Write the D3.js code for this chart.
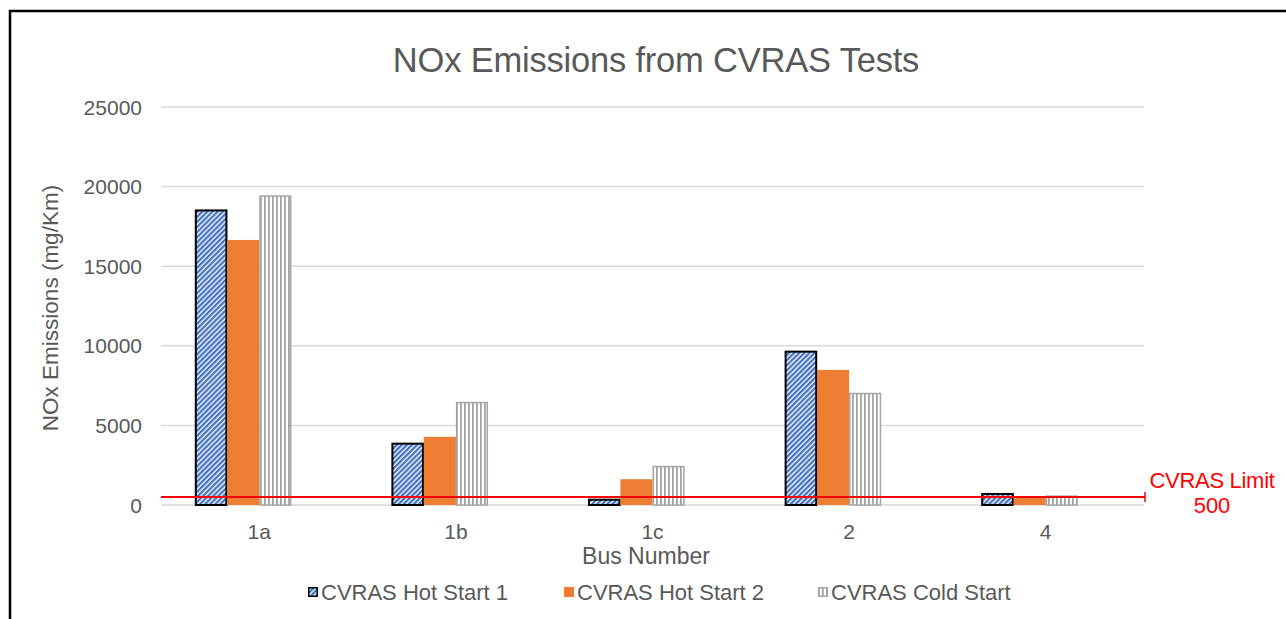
<!DOCTYPE html>
<html>
<head>
<meta charset="utf-8">
<script src="https://cdn.jsdelivr.net/npm/d3@7"></script>
<style>
  body { margin: 0; background: #fff; }
  svg { display: block; font-family: "Liberation Sans", Arial, sans-serif; }
</style>
</head>
<body>
<svg></svg>
<script>
// chart data
var buses = ["1a", "1b", "1c", "2", "4"];
var seriesNames = ["CVRAS Hot Start 1", "CVRAS Hot Start 2", "CVRAS Cold Start"];
var hotStart1 = [18550, 3900, 380, 9680, 740];
var hotStart2 = [16650, 4280, 1620, 8480, 540];
var coldStart = [19450, 6480, 2460, 7050, 600];
var yTicks = [0, 5000, 10000, 15000, 20000, 25000];
var limitName = "CVRAS Limit";
var limitValue = 500;

var width = 1286, height = 619;
var svg = d3.select("svg").attr("width", width).attr("height", height);

var margin = { left: 161, right: 1144, top: 107, bottom: 505 };

var defs = svg.append("defs");

// blue diagonal hatch
var p1 = defs.append("pattern")
    .attr("id", "hatch")
    .attr("patternUnits", "userSpaceOnUse")
    .attr("width", 3.6).attr("height", 3.6)
    .attr("patternTransform", "rotate(45)");
p1.append("rect").attr("width", 3.6).attr("height", 3.6).attr("fill", "#ffffff");
p1.append("rect").attr("width", 2.3).attr("height", 3.6).attr("fill", "#4472c4");

// grey vertical stripes
var p3 = defs.append("pattern")
    .attr("id", "vstripe")
    .attr("patternUnits", "userSpaceOnUse")
    .attr("width", 4).attr("height", 4);
p3.append("rect").attr("width", 4).attr("height", 4).attr("fill", "#ffffff");
p3.append("rect").attr("width", 1.8).attr("height", 4).attr("fill", "#a5a5a5");

var fills = ["url(#hatch)", "#ed7d31", "url(#vstripe)"];
var strokes = ["#000000", "none", "#a5a5a5"];

// outer border
svg.append("rect")
    .attr("x", 10).attr("y", 11)
    .attr("width", width + 20).attr("height", height + 20)
    .attr("fill", "none").attr("stroke", "#000").attr("stroke-width", 2.5);

var x = d3.scaleBand()
    .domain(buses)
    .range([margin.left, margin.right]);

// the limit is a 4th (empty) bar slot, so the groups sit left of centre
var xInner = d3.scaleBand()
    .domain(seriesNames.concat([limitName]))
    .range([0, x.bandwidth()])
    .paddingOuter(1.06);

var y = d3.scaleLinear()
    .domain([0, 25000])
    .range([margin.bottom, margin.top]);

// gridlines
svg.append("g")
    .selectAll("line")
    .data(yTicks)
    .join("line")
    .attr("x1", margin.left).attr("x2", margin.right)
    .attr("y1", d => y(d)).attr("y2", d => y(d))
    .attr("stroke", "#d9d9d9").attr("stroke-width", 1.5);

// y tick labels
svg.append("g")
    .selectAll("text")
    .data(yTicks)
    .join("text")
    .attr("x", 142).attr("y", d => y(d))
    .attr("dy", "0.36em")
    .attr("text-anchor", "end")
    .attr("font-size", 21)
    .attr("fill", "#595959")
    .text(d => d);

// bars
var seriesData = [hotStart1, hotStart2, coldStart];
seriesData.forEach(function (vals, si) {
    var inset = si === 1 ? 0 : 0.75;
    svg.append("g")
        .selectAll("rect")
        .data(vals)
        .join("rect")
        .attr("x", (d, i) => x(buses[i]) + xInner(seriesNames[si]) + inset)
        .attr("y", d => y(d) + inset)
        .attr("width", xInner.bandwidth() - 2 * inset)
        .attr("height", d => y(0) - y(d) - inset)
        .attr("fill", fills[si])
        .attr("stroke", strokes[si])
        .attr("stroke-width", si === 0 ? 2 : 1.5);
});

// x labels
svg.append("g")
    .selectAll("text")
    .data(buses)
    .join("text")
    .attr("x", d => x(d) + x.bandwidth() / 2)
    .attr("y", 539)
    .attr("text-anchor", "middle")
    .attr("font-size", 21)
    .attr("fill", "#595959")
    .text(d => d);

// limit line
svg.append("line")
    .attr("x1", margin.left).attr("x2", margin.right + 1)
    .attr("y1", y(limitValue)).attr("y2", y(limitValue))
    .attr("stroke", "#ff0000").attr("stroke-width", 2);
svg.append("line")
    .attr("x1", margin.right + 1).attr("x2", margin.right + 1)
    .attr("y1", y(limitValue) - 5).attr("y2", y(limitValue) + 5)
    .attr("stroke", "#ff0000").attr("stroke-width", 1.5);
svg.append("text")
    .attr("x", 1212).attr("y", 488)
    .attr("text-anchor", "middle")
    .attr("font-size", 22).attr("fill", "#ff0000")
    .attr("letter-spacing", -0.3)
    .text(limitName);
svg.append("text")
    .attr("x", 1212).attr("y", 513)
    .attr("text-anchor", "middle")
    .attr("font-size", 22).attr("fill", "#ff0000")
    .text(limitValue);

// title
svg.append("text")
    .attr("x", 656).attr("y", 72)
    .attr("text-anchor", "middle")
    .attr("font-size", 34.5)
    .attr("fill", "#595959")
    .attr("letter-spacing", -0.2)
    .text("NOx Emissions from CVRAS Tests");

// axis titles
svg.append("text")
    .attr("x", 646).attr("y", 564)
    .attr("text-anchor", "middle")
    .attr("font-size", 23)
    .attr("fill", "#595959")
    .text("Bus Number");

svg.append("text")
    .attr("transform", "translate(58,308) rotate(-90)")
    .attr("text-anchor", "middle")
    .attr("font-size", 22.5)
    .attr("fill", "#595959")
    .text("NOx Emissions (mg/Km)");

// legend
var legendX = [308, 564, 818];
var lg = svg.append("g")
    .selectAll("g")
    .data(seriesNames)
    .join("g")
    .attr("transform", (d, i) => "translate(" + legendX[i] + ",587)");
lg.append("rect")
    .attr("x", (d, i) => i === 1 ? 0 : 0.75).attr("y", (d, i) => i === 1 ? 0 : 0.75)
    .attr("width", (d, i) => i === 1 ? 10 : 8.5).attr("height", (d, i) => i === 1 ? 10 : 8.5)
    .attr("fill", (d, i) => fills[i])
    .attr("stroke", (d, i) => strokes[i])
    .attr("stroke-width", 1.5);
lg.append("text")
    .attr("x", 13).attr("y", 5)
    .attr("dy", "0.36em")
    .attr("font-size", 22)
    .attr("fill", "#595959")
    .text(d => d);
</script>
</body>
</html>
